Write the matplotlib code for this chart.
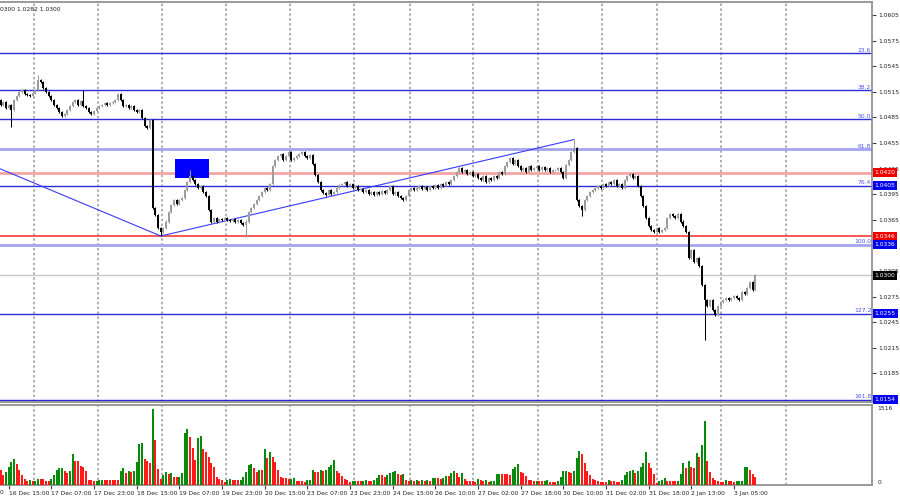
import numpy as np
import matplotlib
matplotlib.use("Agg")
import matplotlib.pyplot as plt

# hourly closes, one row per 16 bars (one date label step)
closes = [
    1.0499, 1.0503, 1.0496, 1.0500, 1.0494, 1.0505, 1.0510, 1.0515, 1.0517, 1.0512, 1.0511, 1.0510, 1.0514, 1.0517, 1.0529, 1.0526,
    1.0519, 1.0515, 1.0510, 1.0505, 1.0500, 1.0496, 1.0491, 1.0487, 1.0489, 1.0494, 1.0498, 1.0503, 1.0505, 1.0500, 1.0504, 1.0498,
    1.0496, 1.0491, 1.0489, 1.0492, 1.0496, 1.0498, 1.0500, 1.0502, 1.0499, 1.0502, 1.0503, 1.0505, 1.0512, 1.0505, 1.0498, 1.0499,
    1.0496, 1.0498, 1.0494, 1.0491, 1.0494, 1.0484, 1.0475, 1.0473, 1.0482, 1.0379, 1.0371, 1.0355, 1.0351, 1.0355, 1.0363, 1.0374,
    1.0382, 1.0388, 1.0384, 1.0388, 1.0391, 1.0400, 1.0409, 1.0416, 1.0412, 1.0407, 1.0402, 1.0405, 1.0398, 1.0393, 1.0376, 1.0363,
    1.0367, 1.0363, 1.0366, 1.0365, 1.0367, 1.0365, 1.0364, 1.0366, 1.0363, 1.0365, 1.0361, 1.0359, 1.0363, 1.0374, 1.0379, 1.0384,
    1.0388, 1.0393, 1.0398, 1.0402, 1.0400, 1.0407, 1.0428, 1.0435, 1.0440, 1.0442, 1.0435, 1.0440, 1.0444, 1.0435, 1.0437, 1.0440,
    1.0442, 1.0444, 1.0440, 1.0437, 1.0441, 1.0430, 1.0418, 1.0409, 1.0400, 1.0396, 1.0394, 1.0400, 1.0395, 1.0398, 1.0402, 1.0406,
    1.0407, 1.0409, 1.0405, 1.0407, 1.0402, 1.0405, 1.0400, 1.0401, 1.0398, 1.0400, 1.0395, 1.0398, 1.0394, 1.0398, 1.0395, 1.0399,
    1.0396, 1.0400, 1.0405, 1.0395, 1.0398, 1.0393, 1.0391, 1.0388, 1.0393, 1.0400, 1.0402, 1.0400, 1.0402, 1.0405, 1.0401, 1.0403,
    1.0400, 1.0405, 1.0402, 1.0406, 1.0402, 1.0407, 1.0405, 1.0409, 1.0407, 1.0412, 1.0416, 1.0421, 1.0426, 1.0421, 1.0423, 1.0419,
    1.0421, 1.0416, 1.0419, 1.0414, 1.0412, 1.0416, 1.0409, 1.0414, 1.0412, 1.0416, 1.0414, 1.0421, 1.0419, 1.0428, 1.0433, 1.0437,
    1.0430, 1.0435, 1.0428, 1.0423, 1.0426, 1.0421, 1.0428, 1.0423, 1.0426, 1.0428, 1.0423, 1.0427, 1.0423, 1.0426, 1.0421, 1.0423,
    1.0423, 1.0426, 1.0421, 1.0414, 1.0429, 1.0435, 1.0444, 1.0449, 1.0388, 1.0381, 1.0376, 1.0388, 1.0393, 1.0398, 1.0400, 1.0402,
    1.0405, 1.0402, 1.0407, 1.0405, 1.0409, 1.0407, 1.0412, 1.0405, 1.0407, 1.0402, 1.0412, 1.0416, 1.0419, 1.0414, 1.0416, 1.0405,
    1.0393, 1.0381, 1.0367, 1.0358, 1.0353, 1.0351, 1.0355, 1.0351, 1.0353, 1.0355, 1.0367, 1.0372, 1.0369, 1.0367, 1.0372, 1.0363,
    1.0358, 1.0351, 1.0320, 1.0330, 1.0316, 1.0320, 1.0311, 1.0289, 1.0271, 1.0264, 1.0271, 1.0259, 1.0254, 1.0264, 1.0269, 1.0271,
    1.0273, 1.0271, 1.0273, 1.0276, 1.0273, 1.0271, 1.0280, 1.0278, 1.0285, 1.0292, 1.0283, 1.0300,
]
first_open = 1.0505
wick_highs = {14: 1.0535, 31: 1.0517, 44: 1.0514, 71: 1.0423, 215: 1.0459, 283: 1.0302}
wick_lows = {4: 1.0474, 60: 1.0346, 92: 1.0345, 218: 1.0370, 264: 1.0224, 268: 1.0252}

volumes = [
    300, 200, 267, 367, 467, 513, 420, 300, 200, 113, 87, 90, 80, 85, 127, 113,
    113, 80, 78, 127, 200, 300, 333, 335, 287, 233, 287, 613, 487, 480, 380, 367,
    280, 100, 95, 80, 85, 100, 105, 100, 98, 96, 95, 94, 93, 287, 333, 247,
    280, 267, 280, 460, 820, 833, 513, 487, 447, 1516, 900, 327, 127, 193, 260, 220,
    233, 167, 153, 160, 233, 1033, 1113, 967, 733, 500, 933, 980, 713, 667, 567, 433,
    353, 153, 127, 100, 67, 100, 127, 100, 95, 90, 100, 153, 267, 400, 413, 333,
    267, 300, 290, 720, 533, 667, 553, 467, 300, 153, 133, 130, 125, 127, 135, 87,
    87, 85, 67, 100, 105, 300, 267, 260, 300, 287, 300, 367, 400, 500, 280, 233,
    180, 120, 100, 67, 73, 75, 73, 70, 87, 90, 87, 73, 100, 133, 200, 195,
    153, 200, 247, 267, 280, 213, 200, 213, 100, 73, 100, 73, 100, 80, 100, 80,
    100, 80, 133, 147, 133, 120, 133, 180, 175, 233, 287, 233, 167, 233, 113, 87,
    85, 80, 67, 120, 100, 87, 90, 60, 80, 85, 220, 225, 220, 215, 210, 193,
    313, 367, 420, 267, 247, 180, 100, 98, 80, 85, 73, 70, 87, 90, 67, 65,
    64, 80, 167, 280, 285, 267, 247, 280, 547, 687, 620, 433, 287, 200, 120, 100,
    80, 67, 66, 65, 100, 80, 78, 67, 65, 100, 200, 267, 270, 300, 233, 287,
    367, 447, 653, 447, 333, 220, 30, 87, 100, 133, 87, 85, 84, 83, 87, 220,
    433, 333, 487, 367, 347, 633, 553, 800, 1267, 480, 267, 133, 100, 87, 67, 60,
    100, 87, 85, 67, 70, 80, 85, 353, 355, 300, 220, 153,
]

fib_names = ["23.6", "38.2", "50.0", "61.8", "76.4", "100.0", "127.2", "161.8"]
fib_prices = [1.0560, 1.0517, 1.0483, 1.0448, 1.0405, 1.0336, 1.0255, 1.0154]
fib_boxed = [1.0405, 1.0336, 1.0255, 1.0154]
red_levels = [1.0420, 1.0346]
last_price = 1.0300
header = "0300 1.0282 1.0300"

trend_down_bars, trend_down_prices = [-2, 60], [1.0427, 1.0346]
trend_up_bars, trend_up_prices = [60, 215], [1.0346, 1.0459]
zone_bars, zone_prices = [65.3, 78.0], [1.0414, 1.0436]

date_labels = ["16 Dec 15:00", "17 Dec 07:00", "17 Dec 23:00", "18 Dec 15:00", "19 Dec 07:00",
               "19 Dec 23:00", "20 Dec 15:00", "23 Dec 07:00", "23 Dec 23:00", "24 Dec 15:00",
               "26 Dec 10:00", "27 Dec 02:00", "27 Dec 18:00", "30 Dec 10:00", "31 Dec 02:00",
               "31 Dec 18:00", "2 Jan 13:00", "3 Jan 05:00"]
label_bars = [3 + 16 * k for k in range(len(date_labels))]
grid_bars = [12.3, 36.3, 60.4, 84.4, 108.4, 132.3, 153.5, 177.3, 201.5, 225.4, 246.3, 270.3, 294.4]
price_ticks = [round(1.0605 - 0.003 * k, 4) for k in range(16)]
hidden_ticks = [1.0335, 1.0155]  # sit fully behind the price boxes

n = len(closes)
x = np.arange(n)
opens = [first_open] + closes[:-1]

BLUE = "#2b2bd9"
LIGHT_BLUE = "#a3a3f0"
GRID = "#9a9a9a"
FS = 4.3

fig = plt.figure(figsize=(9, 5), dpi=100)
ax = fig.add_axes([0, 98 / 500, 872 / 900, 400 / 500])
axv = fig.add_axes([0, 15 / 500, 872 / 900, 80 / 500])

xmin, xmax = -0.3, 872 / 2.666 - 0.3
for a in (ax, axv):
    a.set_xlim(xmin, xmax)
    for b in grid_bars:
        a.axvline(b, color=GRID, lw=1.1, ls=(0, (1.6, 1.6)), zorder=0)
    a.spines["left"].set_visible(False)
    for s in ("top", "right", "bottom"):
        a.spines[s].set_color("#8a8a8a")
        a.spines[s].set_linewidth(1.2)

# price panel
ax.set_ylim(1.01515, 1.06202)
for name, p in zip(fib_names, fib_prices):
    light = name in ("61.8", "100.0")
    ax.axhline(p, color=LIGHT_BLUE if light else BLUE, lw=2.0 if light else 1.0, zorder=1)
    ax.text(xmax - 0.3, p + 0.00005, name, color="#5050ff", fontsize=FS,
            ha="right", va="bottom", zorder=5)
ax.axhline(red_levels[0], color="#f5a3a3", lw=2.0, zorder=1)
ax.axhline(red_levels[1], color="#f03c3c", lw=1.2, zorder=1)
ax.axhline(last_price, color="#c8c8c8", lw=1.0, zorder=1)

ax.plot(trend_down_bars, trend_down_prices, color="#3a3aff", lw=0.8, zorder=2)
ax.plot(trend_up_bars, trend_up_prices, color="#3a3aff", lw=0.8, zorder=2)
ax.fill_between(zone_bars, zone_prices[0], zone_prices[1], color="#0000ff", lw=0, zorder=2)

for i in range(n):
    o, c = opens[i], closes[i]
    up = c >= o
    col = "#9c9c9c" if up else "black"
    hi = wick_highs.get(i, max(o, c) + 0.00012)
    lo = wick_lows.get(i, min(o, c) - 0.00012)
    ax.vlines(i, lo, hi, color=col, lw=0.75, zorder=3)
    h = max(abs(c - o), 0.00006)
    ax.bar(i, h, bottom=min(o, c), width=0.75, color=col, lw=0, zorder=3)

ax.yaxis.tick_right()
ax.set_yticks(price_ticks)
ax.set_yticklabels(["" if t in hidden_ticks else f"{t:.4f}" for t in price_ticks])
ax.tick_params(axis="y", length=3, width=0.8, color="#404040", labelsize=FS,
               labelcolor="#202020", pad=1.5)
ax.tick_params(axis="x", bottom=False, labelbottom=False)

box_style = dict(boxstyle="square,pad=0.33", lw=0)
for p in fib_boxed:
    ax.annotate(f"{p:.4f}", xy=(1.003, p), xycoords=("axes fraction", "data"),
                fontsize=FS, color="white", ha="left", va="center",
                bbox=dict(fc="#0000ee", **box_style), annotation_clip=False, zorder=6)
for p in red_levels:
    ax.annotate(f"{p:.4f}", xy=(1.003, p), xycoords=("axes fraction", "data"),
                fontsize=FS, color="white", ha="left", va="center",
                bbox=dict(fc="#ee0000", **box_style), annotation_clip=False, zorder=6)
ax.annotate(f"{last_price:.4f}", xy=(1.003, last_price), xycoords=("axes fraction", "data"),
            fontsize=FS, color="white", ha="left", va="center",
            bbox=dict(fc="black", **box_style), annotation_clip=False, zorder=6)
ax.text(0.0, 0.988, header, transform=ax.transAxes, fontsize=FS, color="#202020",
        ha="left", va="top")

# volume panel
vmax = max(volumes)
axv.set_ylim(0, vmax * 80 / 76)
vcols = ["#0a8a0a" if i > 0 and volumes[i] > volumes[i - 1] else "#ff1a1a" for i in range(n)]
axv.bar(x, volumes, width=0.75, color=vcols, lw=0, zorder=3)
axv.set_yticks([])
axv.text(1.006, vmax, str(vmax), transform=axv.get_yaxis_transform(), fontsize=FS,
         color="#202020", ha="left", va="center")
axv.text(1.006, 0, "0", transform=axv.get_yaxis_transform(), fontsize=FS,
         color="#202020", ha="left", va="bottom")
axv.set_xticks(label_bars)
axv.set_xticklabels(date_labels, ha="left")
axv.tick_params(axis="x", length=3, width=0.8, color="#404040", labelsize=FS,
                labelcolor="#202020", pad=1)
axv.text(0.0, -0.06, "0", transform=axv.transAxes, fontsize=FS, color="#202020",
         ha="left", va="top")

fig.savefig("out.png", dpi=100)
